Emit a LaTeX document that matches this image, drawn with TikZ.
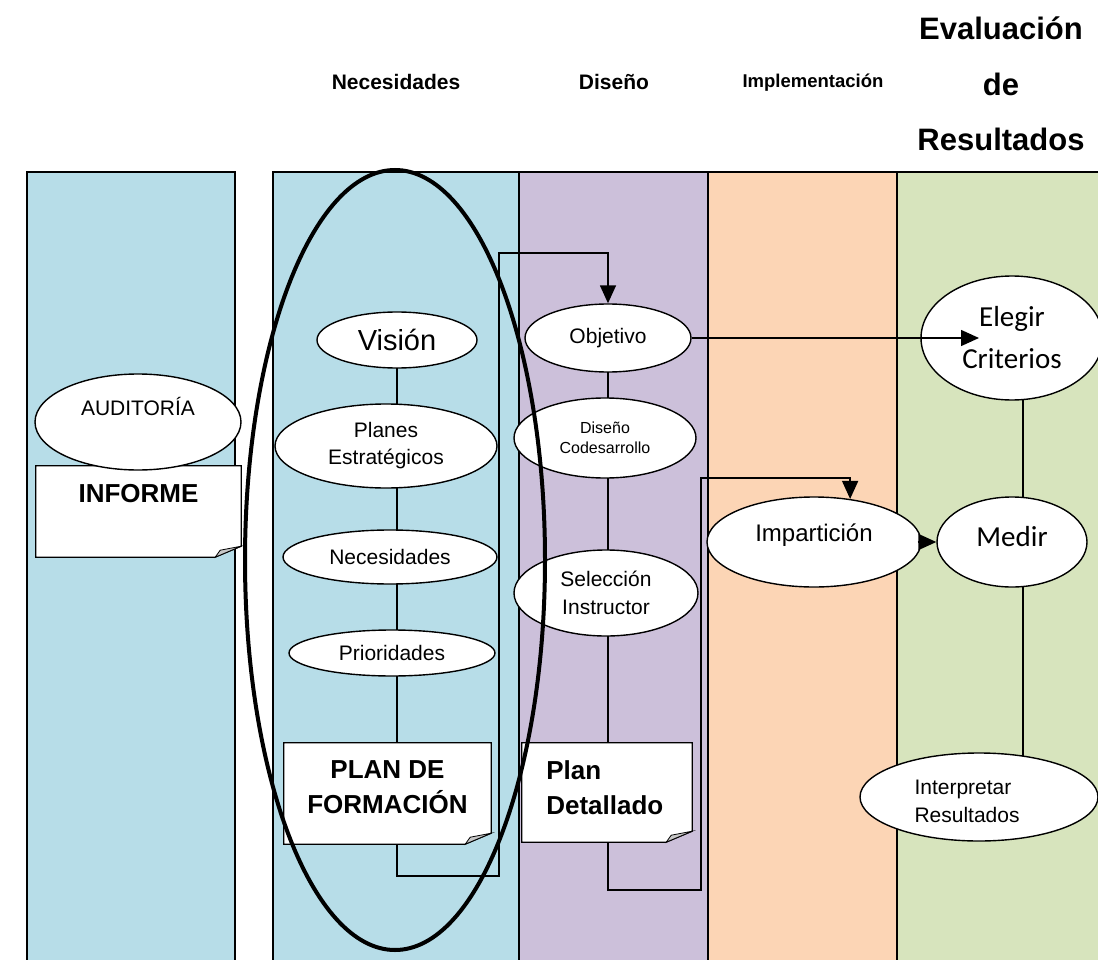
\documentclass[tikz,border=0pt]{standalone}
\usepackage{fontspec}
\setmainfont{Liberation Sans}
\newfontfamily\calibfont{Carlito}
\usetikzlibrary{shapes.geometric,arrows.meta}
\pgfdeclarelayer{lanes}
\pgfdeclarelayer{links}
\pgfsetlayers{lanes,links,main}

\definecolor{laneblue}{HTML}{B7DDE8}
\definecolor{lanepurple}{HTML}{CCC0DA}
\definecolor{lanepeach}{HTML}{FCD5B5}
\definecolor{lanegreen}{HTML}{D7E4BD}

\newcommand{\fsz}[2]{\fontsize{#1}{#2}\selectfont}
% note sheet with a turned-up corner, drawn under the node text
\newcommand{\foldnote}[1]{%
  \begin{pgfonlayer}{links}
  \filldraw[line width=1.2pt,fill=white] (#1.north west) -- (#1.north east) -- ([yshift=11pt]#1.south east) -- ([xshift=-26pt]#1.south east) -- (#1.south west) -- cycle;
  \filldraw[line width=0.8pt,fill=black!22] ([yshift=11pt]#1.south east) -- ([xshift=-21pt,yshift=7pt]#1.south east) -- ([xshift=-26pt]#1.south east) -- cycle;
  \end{pgfonlayer}}

\begin{document}
\begin{tikzpicture}[x=1pt,y=-1pt,
  lane/.style={draw,line width=2pt},
  oval/.style={draw,ellipse,fill=white,line width=1.4pt,inner sep=0pt,align=center,font=\fsz{21}{27}},
  docbox/.style={rectangle,inner sep=0pt},
  doctext/.style={font=\bfseries\fsz{26}{35},align=center},
  head/.style={font=\bfseries\fsz{21}{25}},
  link/.style={line width=1.5pt},
  arr/.style={link,-{Triangle[length=18pt,width=16pt]}}]
    \useasboundingbox (0,0) rectangle (1098,960);

    % swim lanes
    \begin{pgfonlayer}{lanes}
    \draw[lane,fill=laneblue] (27,172) rectangle (235,975);
    \draw[lane,fill=laneblue] (273,172) rectangle (519,975);
    \draw[lane,fill=lanepurple] (519,172) rectangle (708,975);
    \draw[lane,fill=lanepeach] (708,172) rectangle (897,975);
    \draw[lane,fill=lanegreen] (897,172) rectangle (1115,975);
    \end{pgfonlayer}

    % headings
    \node[head] (hnec) at (396,82) {Necesidades};
    \node[head] (hdis) at (614,82) {Diseño};
    \node[head,font=\bfseries\fsz{18.5}{22}] (himp) at (813,83) {Implementación};
    \node[head,font=\bfseries\fsz{31}{55.5},align=center] (heval) at (1001,84) {Evaluación\\de\\Resultados};

    % first lane
    \node[oval,minimum width=206pt,minimum height=96pt,text height=15pt,text depth=28pt] (aud) at (138,422) {AUDITORÍA};
    \node[docbox,minimum width=205pt,minimum height=91pt] (inf) at (138.5,511.5) {};

    % needs
    \node[oval,minimum width=160pt,minimum height=56pt,font=\fsz{29}{34}] (vis) at (397,340) {Visión};
    \node[oval,minimum width=222pt,minimum height=84pt] (pest) at (386,446) {Planes\\Estratégicos};
    \node[oval,minimum width=214pt,minimum height=54pt] (nec) at (390,557) {Necesidades};
    \node[oval,minimum width=206pt,minimum height=46pt] (prio) at (392,653) {Prioridades};
    \node[docbox,minimum width=207pt,minimum height=101pt] (pdf) at (387.5,793.5) {};

    % design
    \node[oval,minimum width=166pt,minimum height=68pt] (obj) at (608,338) {Objetivo};
    \node[oval,minimum width=182pt,minimum height=80pt,font=\fsz{16}{20}] (dcod) at (605,438) {Diseño\\Codesarrollo};
    \node[oval,minimum width=184pt,minimum height=86pt,font=\fsz{21}{28}] (sel) at (606,593) {Selección\\Instructor};
    \node[docbox,minimum width=170pt,minimum height=99pt] (pdet) at (607,792.5) {};

    % implementation and evaluation
    \node[oval,minimum width=214pt,minimum height=90pt,font=\fsz{24}{28},text height=17pt,text depth=18pt] (imp) at (814,542) {Impartición};
    \node[oval,minimum width=182pt,minimum height=124pt,font=\calibfont\fsz{29}{42}] (eleg) at (1012,338) {Elegir\\Criterios};
    \node[oval,minimum width=150pt,minimum height=90pt,font=\calibfont\fsz{29}{34},text height=19pt,text depth=10pt] (med) at (1012,542) {Medir};
    \node[oval,minimum width=238pt,minimum height=88pt] (interp) at (979,797) {};
    \node[font=\fsz{21}{28},align=left,anchor=west] (interpt) at ([xshift=-68pt,yshift=-4pt]interp.center) {Interpretar\\Resultados};

    \coordinate (loopa) at (499,876);
    \coordinate (loopb) at (499,253);
    \coordinate (loopc) at (701,890);
    \coordinate (loopd) at (701,478);
    \coordinate (aimE) at ([xshift=-33pt]eleg.center);

    \begin{pgfonlayer}{links}
    \draw[link] (vis.center) -- (vis.center |- pdf.north);
    \draw[arr] (vis.center |- pdf.south) |- (loopa) -- (loopb) -| (obj.north);
    \draw[link] (obj.center) -- (obj.center |- pdet.north);
    \draw[arr] (obj.center |- pdet.south) |- (loopc) -- (loopd) -| (imp.50);
    \draw[link] ([xshift=11pt]eleg.center) -- ([xshift=11pt]eleg.center |- interp.center);
    \end{pgfonlayer}
    \draw[arr] (obj.east) -- (aimE);
    \draw[arr] ([xshift=-4pt]imp.east) -- (med.west);

    % note sheets
    \foldnote{inf}
    \foldnote{pdf}
    \foldnote{pdet}
    \node[doctext] (inft) at ([yshift=18pt]inf.center) {INFORME};
    \node[doctext] (pdft) at ([yshift=6pt]pdf.center) {PLAN DE\\FORMACIÓN};
    \node[doctext,align=left,anchor=west] (pdett) at ([xshift=21pt,yshift=5pt]pdet.west) {Plan\\Detallado};

    % phase ring
    \node[draw,ellipse,line width=4pt,minimum width=300pt,minimum height=780pt] (fase) at (395,560) {};
\end{tikzpicture}
\end{document}
